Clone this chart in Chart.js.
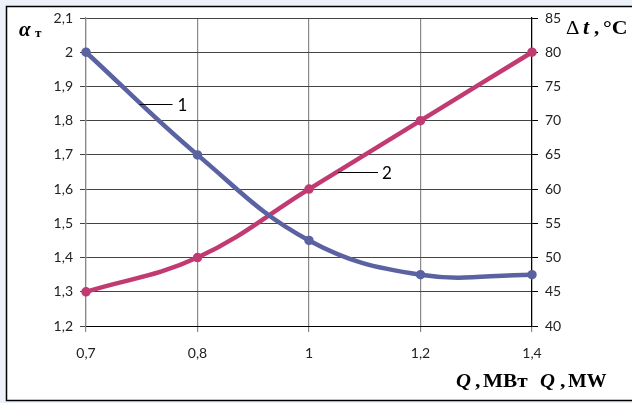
<!DOCTYPE html>
<html>
<head>
<meta charset="utf-8">
<script src="https://cdn.jsdelivr.net/npm/chart.js@4"></script>
<style>
  html, body { margin: 0; padding: 0; background: #edf1f9; }
  #wrap { position: absolute; left: 0; top: 0; width: 632px; height: 403px; }
</style>
</head>
<body>
<div id="wrap"><canvas id="grafico"></canvas></div>
<script>
// Q, MW (categorias do eixo X)
var rotulosQ = ['0,7', '0,8', '1', '1,2', '1,4'];
// curva 1 - alfa_t (eixo esquerdo)
var alfaT = [2.0, 1.7, 1.45, 1.35, 1.35];
// curva 2 - delta t, C (eixo direito)
var deltaT = [45, 50, 60, 70, 80];

var fonteTicks = { family: 'Lato', size: 14 };

// texto esticado na horizontal (fonte do original e mais larga)
function texto(c, s, x, y, fonte, esc) {
  c.save();
  c.font = fonte;
  c.translate(x, y);
  c.scale(esc, 1);
  c.fillText(s, 0, 0);
  c.restore();
}

// moldura, rotulos dos eixos e legendas "1" e "2"
var extras = {
  id: 'extras',
  beforeDraw: function(chart) {
    var c = chart.ctx;
    c.save();
    c.fillStyle = '#edf1f9';
    c.fillRect(0, 0, chart.width, chart.height);
    c.fillStyle = '#ffffff';
    c.fillRect(6, 6, chart.width - 6, chart.height - 8);
    c.strokeStyle = '#000';
    c.lineWidth = 1.5;
    c.strokeRect(6.5, 6.5, chart.width + 4, chart.height - 9);
    c.restore();
  },
  afterDraw: function(chart) {
    var c = chart.ctx;
    var x = chart.scales.x, yE = chart.scales.yE, yD = chart.scales.yD;
    c.save();
    c.fillStyle = '#000';
    c.strokeStyle = '#000';
    c.lineWidth = 1;
    c.textBaseline = 'alphabetic';

    // legenda 1
    var x1 = x.getPixelForValue(0) + 0.48 * (x.getPixelForValue(1) - x.getPixelForValue(0));
    var y1 = Math.round(yE.getPixelForValue(1.85)) + 0.5;
    c.beginPath(); c.moveTo(x1, y1); c.lineTo(x1 + 33, y1); c.stroke();
    c.font = '17px Lato';
    c.fillText('1', x1 + 38, y1 + 6);

    // legenda 2
    var x2 = x.getPixelForValue(2) + 0.26 * (x.getPixelForValue(3) - x.getPixelForValue(2));
    var y2 = Math.round(yD.getPixelForValue(62.5)) + 0.5;
    c.beginPath(); c.moveTo(x2, y2); c.lineTo(x2 + 40, y2); c.stroke();
    c.fillText('2', x2 + 44, y2 + 6);

    // alfa_t
    texto(c, 'α', 19, 36, 'italic bold 20px "Liberation Serif"', 1.05);
    texto(c, 'т', 35, 37, 'bold 12px "Liberation Serif"', 1.1);

    // delta t, C
    texto(c, 'Δ', 566, 34, '19px "Liberation Serif"', 1.1);
    texto(c, 't', 583, 34, 'italic bold 20px "Liberation Serif"', 1.1);
    texto(c, ',', 594, 34, 'bold 19px "Liberation Serif"', 1.1);
    texto(c, '°C', 603, 34, 'bold 19px "Liberation Serif"', 1.15);

    // Q, MBт  Q, MW
    texto(c, 'Q', 456, 387, 'italic bold 18px "Liberation Serif"', 1.15);
    texto(c, ',', 475, 387, 'bold 18px "Liberation Serif"', 1.2);
    texto(c, 'МВт', 483, 387, 'bold 18px "Liberation Serif"', 1.18);
    texto(c, 'Q', 540, 387, 'italic bold 18px "Liberation Serif"', 1.15);
    texto(c, ',', 560, 387, 'bold 18px "Liberation Serif"', 1.2);
    texto(c, 'MW', 568, 387, 'bold 18px "Liberation Serif"', 1.1);
    c.restore();
  }
};

var ctx = document.getElementById('grafico');
var grafico = new Chart(ctx, {
  type: 'line',
  data: {
    labels: rotulosQ,
    datasets: [{
      label: '1',
      data: alfaT,
      yAxisID: 'yE',
      borderColor: '#5b62a2',
      backgroundColor: '#5b62a2',
      borderWidth: 4.5,
      pointRadius: 2.5,
      tension: 0.4
    }, {
      label: '2',
      data: deltaT,
      yAxisID: 'yD',
      borderColor: '#c23a72',
      backgroundColor: '#c23a72',
      borderWidth: 4.5,
      pointRadius: 2.5,
      tension: 0.4
    }]
  },
  options: {
    responsive: true,
    maintainAspectRatio: false,
    animation: false,
    layout: { padding: { top: 18, left: 0, right: 0, bottom: 0 } },
    plugins: { legend: { display: false }, tooltip: { enabled: false } },
    scales: {
      x: {
        type: 'category',
        offset: false,
        grid: { color: '#8a8a8a', lineWidth: 1.2, tickLength: 6 },
        border: { color: '#000', width: 1 },
        ticks: { font: fonteTicks, color: '#222', padding: 13, maxRotation: 0 },
        afterFit: function(s) { s.height = 77; }
      },
      yE: {
        type: 'linear',
        position: 'left',
        min: 1.2, max: 2.1,
        grid: { color: '#444', lineWidth: 1, tickLength: 6 },
        border: { color: '#888', width: 1.2 },
        ticks: {
          stepSize: 0.1, font: fonteTicks, color: '#222', padding: 7,
          callback: function(v) { return (Math.round(v * 10) / 10).toString().replace('.', ','); }
        },
        afterFit: function(s) { s.width = 86; }
      },
      yD: {
        type: 'linear',
        position: 'right',
        min: 40, max: 85,
        grid: { drawOnChartArea: false, color: '#000', tickLength: 6 },
        border: { color: '#000', width: 1.2 },
        ticks: { stepSize: 5, font: fonteTicks, color: '#222', padding: 7 },
        afterFit: function(s) { s.width = 100; }
      }
    }
  },
  plugins: [extras]
});
</script>
</body>
</html>
